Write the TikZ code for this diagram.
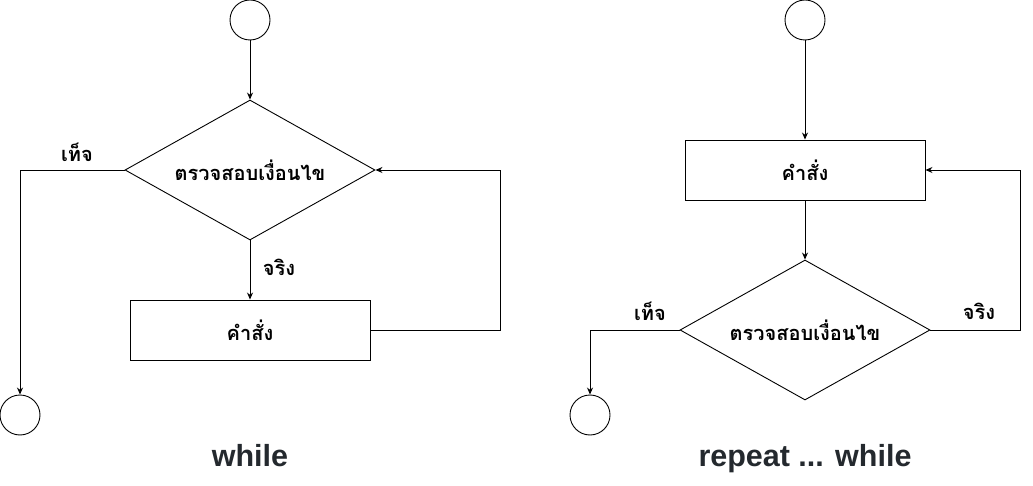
\documentclass[tikz,border=0pt]{standalone}
\usepackage{fontspec}
\setmainfont{Liberation Sans}
\newfontfamily\thaifont[Script=Thai]{Loma}
\usetikzlibrary{shapes.geometric,arrows.meta}
\definecolor{titlecol}{HTML}{24292E}
\tikzset{
  flow/.style={draw=black, line width=0.9pt},
  arr/.style={flow, -{Stealth[length=7pt,width=6pt]}},
  term/.style={circle, draw=black, line width=0.9pt, minimum size=40pt, inner sep=0pt},
  thaitxt/.style={font=\thaifont\bfseries\fontsize{20}{22}\selectfont},
  cond/.style={diamond, draw=black, line width=0.9pt, minimum width=250pt, minimum height=140pt, inner sep=0pt, aspect=1.7857, thaitxt},
  stmt/.style={rectangle, draw=black, line width=0.9pt, minimum width=240pt, minimum height=60pt, inner sep=0pt, thaitxt},
  lbl/.style={thaitxt, inner sep=0pt},
  title/.style={font=\bfseries\fontsize{30.5}{34}\selectfont, text=titlecol, inner sep=0pt, anchor=base}
}
\begin{document}
\begin{tikzpicture}[x=1pt,y=-1pt]
\useasboundingbox (0,0) rectangle (1033,486);
% left: while
\node[term] (s1) at (250,20) {};
\node[cond] (c1) at (250,170) {ตรวจสอบเงื่อนไข};
\node[stmt] (b1) at (250,330) {คำสั่ง};
\node[term] (e1) at (20,415) {};
\coordinate (r1) at (500,330);
\coordinate (r1t) at (500,170);
\coordinate (l1) at (20,170);
\draw[arr] (s1) -- (c1.north);
\draw[arr] (c1.south) -- (b1.north);
\draw[arr] (b1.east) -- (r1) -- (r1t) -- (c1.east);
\draw[arr] (c1.west) -- (l1) -- (e1.north);
\node[lbl] (t1) at (279,267) {จริง};
\node[lbl] (f1) at (77,152) {เท็จ};
\node[title] (w1) at (250,466) {while};
% right: repeat ... while
\node[term] (s2) at (805,20) {};
\node[stmt] (b2) at (805,170) {คำสั่ง};
\node[cond] (c2) at (805,330) {ตรวจสอบเงื่อนไข};
\node[term] (e2) at (590,415) {};
\coordinate (r2) at (1020,330);
\coordinate (r2t) at (1020,170);
\coordinate (l2) at (590,330);
\draw[arr] (s2) -- (b2.north);
\draw[arr] (b2.south) -- (c2.north);
\draw[arr] (c2.east) -- (r2) -- (r2t) -- (b2.east);
\draw[arr] (c2.west) -- (l2) -- (e2.north);
\node[lbl] (t2) at (979,311) {จริง};
\node[lbl] (f2) at (650,311) {เท็จ};
\node[title] (w2) at (805,466) {repeat ... while};
\end{tikzpicture}
\end{document}
